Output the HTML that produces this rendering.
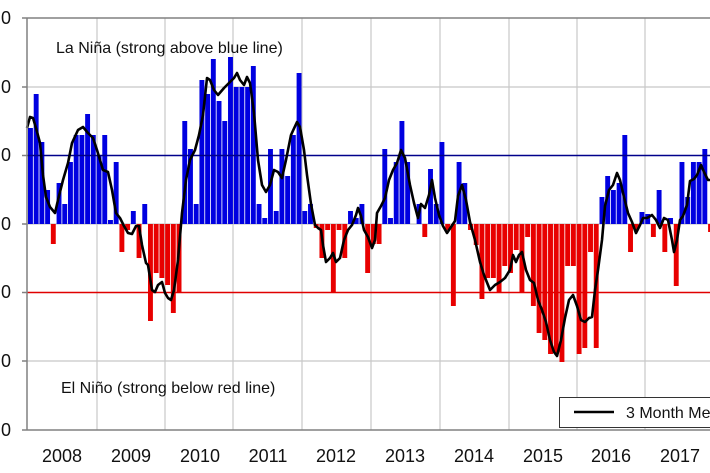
<!DOCTYPE html>
<html><head><meta charset="utf-8"><style>
html,body{margin:0;padding:0;background:#fff;}
svg{display:block;font-family:"Liberation Sans",Arial,sans-serif;}
</style></head><body>
<svg id="c" width="710" height="473" viewBox="0 0 710 473" xmlns="http://www.w3.org/2000/svg">
<g stroke="#c8c8c8" stroke-width="1.2">
<line x1="27" y1="87" x2="710" y2="87"/><line x1="27" y1="361" x2="710" y2="361"/>
<line x1="27" y1="224" x2="710" y2="224"/>
<line x1="97" y1="18" x2="97" y2="430"/><line x1="165" y1="18" x2="165" y2="430"/>
<line x1="233" y1="18" x2="233" y2="430"/><line x1="302" y1="18" x2="302" y2="430"/>
<line x1="371" y1="18" x2="371" y2="430"/><line x1="440" y1="18" x2="440" y2="430"/>
<line x1="509" y1="18" x2="509" y2="430"/><line x1="577" y1="18" x2="577" y2="430"/>
<line x1="645" y1="18" x2="645" y2="430"/>
</g>
<g id="bars"></g>
<line x1="27" y1="155.5" x2="710" y2="155.5" stroke="#00008b" stroke-width="1.5"/>
<line x1="27" y1="292.5" x2="710" y2="292.5" stroke="#e00000" stroke-width="1.5"/>
<polyline id="ln" fill="none" stroke="#000" stroke-width="2.6" stroke-linejoin="round"/>
<g stroke="#808080" stroke-width="1.5">
<line x1="27" y1="18" x2="710" y2="18"/><line x1="27" y1="430" x2="710" y2="430"/>
<line x1="27" y1="18" x2="27" y2="430"/>
<line x1="22" y1="18" x2="27" y2="18"/><line x1="22" y1="87" x2="27" y2="87"/><line x1="22" y1="155.5" x2="27" y2="155.5"/><line x1="22" y1="224" x2="27" y2="224"/><line x1="22" y1="292.5" x2="27" y2="292.5"/><line x1="22" y1="361" x2="27" y2="361"/><line x1="22" y1="430" x2="27" y2="430"/>
</g>
<g font-size="18" fill="#111" text-anchor="end">
<text x="11" y="24">0</text><text x="11" y="93">0</text><text x="11" y="161">0</text><text x="11" y="230">0</text><text x="11" y="298">0</text><text x="11" y="367">0</text><text x="11" y="436">0</text>
</g>
<g font-size="18" fill="#111" text-anchor="middle">
<text x="62" y="462">2008</text><text x="131" y="462">2009</text><text x="200" y="462">2010</text><text x="268" y="462">2011</text><text x="336" y="462">2012</text><text x="405" y="462">2013</text><text x="474" y="462">2014</text><text x="543" y="462">2015</text><text x="611" y="462">2016</text><text x="680" y="462">2017</text>
</g>
<text x="56" y="53" font-size="16" fill="#111">La Niña (strong above blue line)</text>
<text x="61" y="393" font-size="16" fill="#111">El Niño (strong below red line)</text>
<rect x="559.5" y="397.5" width="160" height="30" fill="#fff" stroke="#333" stroke-width="1"/>
<line x1="574" y1="412" x2="614" y2="412" stroke="#000" stroke-width="2.5"/>
<text x="626" y="418" font-size="16" fill="#111">3 Month Mean</text>
</svg>
<script>
var tops=[128,94,142,190,244,183,204,162,135,135,114,135,
155,135,220,162,252,230,211,258,204,321,273,278,
285,313,292,121,149,204,80,94,59,101,121,57,
87,87,87,66,204,218,149,211,149,176,135,73,
211,204,228,258,230,293,230,258,211,218,204,273,
244,244,149,218,162,121,162,224,204,237,169,204,
142,230,306,162,183,230,245,299,278,278,293,266,
273,250,292,237,306,333,340,354,354,362,266,266,
354,348,252,348,197,176,190,183,135,252,230,212,
214,237,190,252,218,286,162,197,162,162,149,232];
var g=document.getElementById('bars'),s='';
for(var i=0;i<tops.length;i++){var x=28+i*5.715,t=tops[i];var y=Math.min(t,224),h=Math.abs(t-224);
s+='<rect x="'+x.toFixed(2)+'" y="'+y+'" width="4.9" height="'+h+'" fill="'+(t<224?'#0000e0':'#e80000')+'"/>';}
g.innerHTML=s;
document.getElementById('ln').setAttribute('points',"27,128 30,117 33,118 36,128 40,143 43,175 46,197 50,207 55,213 58,200 63,180 68,163 72,143 78,130 83,127 88,133 93,138 97,150 103,170 108,172 112,190 116,213 120,218 124,226 128,233 132,234 136,226 139,226 142,245 146,263 148,265 152,290 155,292 158,285 162,282 165,293 168,298 171,300 174,290 178,260 182,213 186,180 190,160 195,150 199,135 203,115 207,78 210,80 214,90 218,95 224,88 230,82 234,78 237,73 240,80 244,85 247,77 250,83 254,113 258,160 262,185 266,192 270,185 274,170 278,172 282,178 286,160 291,135 297,122 300,127 304,150 307,175 311,204 315,225 318,228 321,230 323,245 326,262 330,258 333,253 336,262 340,258 344,240 348,230 352,225 356,215 358,208 361,216 364,230 368,237 372,248 375,240 377,213 381,206 385,198 389,180 393,170 397,163 401,150 405,158 410,185 414,203 418,218 421,204 425,208 429,195 432,180 435,198 439,215 443,226 447,233 451,227 455,221 458,196 462,185 466,200 470,222 475,240 480,262 484,275 490,290 495,285 500,282 505,278 510,270 513,255 516,262 519,255 522,252 526,270 530,280 534,283 538,300 542,310 546,322 550,340 554,352 557,356 561,340 565,318 569,300 573,295 577,306 581,320 585,322 589,318 592,317 595,290 598,270 602,240 605,206 609,190 613,185 617,173 620,180 624,197 628,213 632,222 636,233 640,225 643,218 647,218 652,215 656,220 660,228 664,218 668,220 672,240 674,252 677,240 680,220 683,216 687,205 690,181 694,179 697,175 701,165 704,172 708,180 710,180");
</script>
</body></html>
